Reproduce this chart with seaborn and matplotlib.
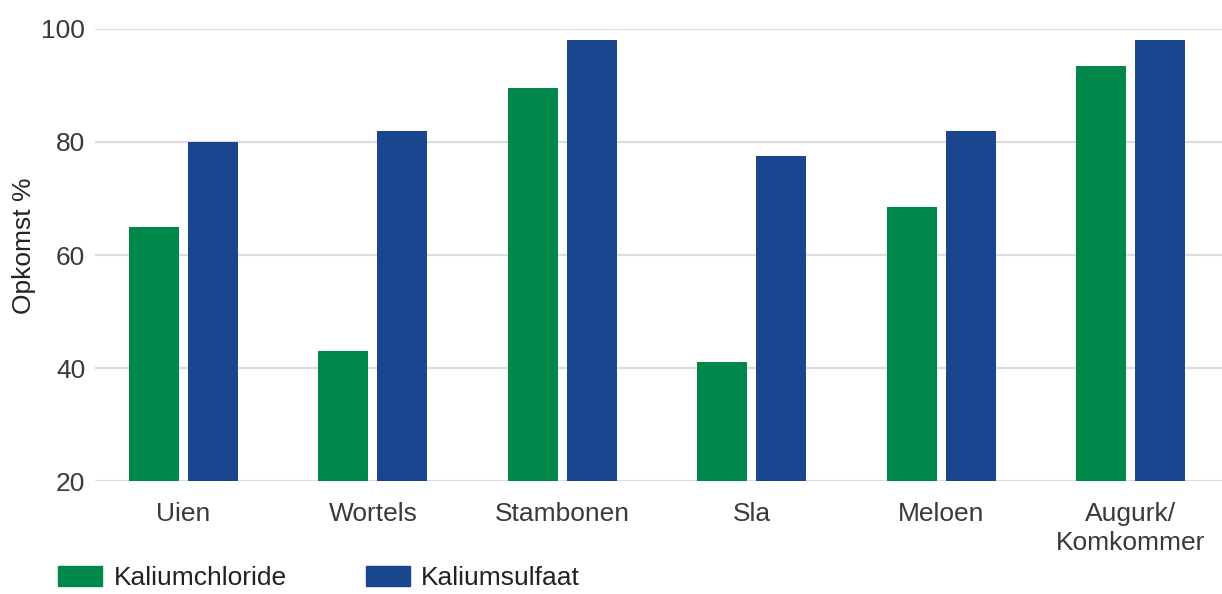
import pandas as pd
import matplotlib.pyplot as plt
import seaborn as sns

# data
gewassen = ['Uien', 'Wortels', 'Stambonen', 'Sla', 'Meloen', 'Augurk/\nKomkommer']
kaliumchloride = [65, 43, 89.5, 41, 68.5, 93.5]
kaliumsulfaat = [80, 82, 98, 77.5, 82, 98]
series = ['Kaliumchloride', 'Kaliumsulfaat']
kleuren = ['#00874A', '#1A4690']

df = pd.DataFrame({
    'gewas': gewassen * 2,
    'meststof': [series[0]] * len(gewassen) + [series[1]] * len(gewassen),
    'opkomst': kaliumchloride + kaliumsulfaat,
})

sns.set_style("white")
plt.rcParams['font.family'] = ['Liberation Sans', 'DejaVu Sans']
tekst = '#3a3a3a'

fig = plt.figure(figsize=(12.22, 5.94), dpi=100)
ax = fig.add_axes([0.0777, 0.1902, 0.9223, 0.761])

sns.barplot(data=df, x='gewas', y='opkomst', hue='meststof', order=gewassen,
            hue_order=series, palette=kleuren, width=0.623, gap=0.153,
            saturation=1, linewidth=0, legend=False, ax=ax)

ax.set_ylim(20, 100)
ax.set_xlim(-0.467, 5.483)
ax.set_yticks([20, 40, 60, 80, 100])
ax.yaxis.grid(True, color='#dddddd', linewidth=1.6)
ax.set_axisbelow(True)
sns.despine(ax=ax, left=True, bottom=True)
ax.tick_params(axis='both', length=0, labelsize=19, labelcolor=tekst)
ax.tick_params(axis='y', pad=7)
ax.tick_params(axis='x', pad=15)
for lbl in ax.get_xticklabels():
    lbl.set_linespacing(1.25)
ax.set_xlabel('')
ax.set_ylabel('Opkomst %', fontsize=19, color='#222222')
ax.yaxis.set_label_coords(-0.052, 0.52)

handles = [plt.Rectangle((0, 0), 1, 1, color=c) for c in kleuren]
fig.legend(handles, series, loc='lower left', bbox_to_anchor=(0.037, -0.016),
           ncol=2, frameon=False, fontsize=19, handlelength=1.67,
           handleheight=0.8, handletextpad=0.42, columnspacing=3.0,
           borderpad=0, labelcolor='#222222')

fig.savefig('out.png', dpi=100)
